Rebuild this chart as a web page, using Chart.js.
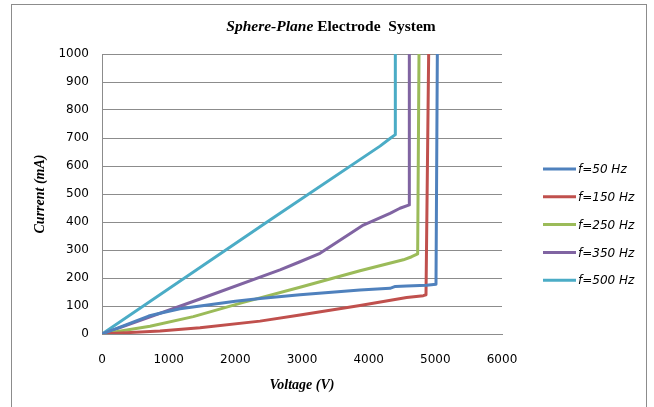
<!DOCTYPE html>
<html>
<head>
<meta charset="utf-8">
<script src="https://cdn.jsdelivr.net/npm/chart.js@4.4.1/dist/chart.umd.min.js"></script>
<style>
  html, body { margin: 0; padding: 0; background: #fff; }
  #wrap { width: 654px; height: 407px; position: relative; }
</style>
</head>
<body>
<div id="wrap"><canvas id="chart" width="654" height="407"></canvas></div>
<script>
// Datos (Voltage V, Current mA)
const seriesLabels = ['f=50 Hz', 'f=150 Hz', 'f=250 Hz', 'f=350 Hz', 'f=500 Hz'];
const seriesColors = ['#4F81BD', '#C0504D', '#9BBB59', '#8064A2', '#4BACC6'];

const f50V  = [0, 700, 870, 1170, 2000, 2370, 2970, 3870, 4320, 4400, 4570, 4870, 5010, 5030];
const f50I  = [0, 64, 74, 90, 117, 127, 140, 157, 163, 170, 171, 174, 178, 1000];

const f150V = [0, 870, 1470, 2370, 2970, 3870, 4570, 4820, 4860, 4900];
const f150I = [0, 11, 22, 46, 68, 102, 130, 137, 140, 1000];

const f250V = [0, 720, 1370, 2120, 2970, 3870, 4520, 4645, 4735, 4755];
const f250I = [0, 28, 62, 113, 167, 226, 265, 276, 286, 1000];

const f350V = [0, 1470, 2670, 2970, 3270, 3920, 4320, 4470, 4610, 4610];
const f350I = [0, 125, 229, 258, 288, 389, 431, 449, 461, 1000];

const f500V = [0, 2520, 4170, 4330, 4400, 4400];
const f500I = [0, 407, 671, 700, 712, 1000];

const xTicks = [0, 1000, 2000, 3000, 4000, 5000, 6000];
const yTicks = [0, 100, 200, 300, 400, 500, 600, 700, 800, 900, 1000];

const seriesV = [f50V, f150V, f250V, f350V, f500V];
const seriesI = [f50I, f150I, f250I, f350I, f500I];

// Área de trazado (píxeles)
const AREA = { left: 102, top: 54, right: 502, bottom: 334 };
const W = 654, H = 407;

const toPoints = (vs, is) => vs.map((v, k) => ({ x: v, y: is[k] }));

const datasets = seriesLabels.map((label, i) => ({
    label: label,
    data: toPoints(seriesV[i], seriesI[i]),
    borderColor: seriesColors[i],
    backgroundColor: seriesColors[i],
    borderWidth: 3,
    pointRadius: 0,
    showLine: true,
    tension: 0,
    borderJoinStyle: 'round'
}));

// Marco, títulos y leyenda
const decorPlugin = {
    id: 'decor',
    beforeDraw(chart) {
        const ctx = chart.ctx;
        ctx.save();
        ctx.fillStyle = '#fff';
        ctx.fillRect(0, 0, W, H);
        ctx.restore();
    },
    afterDraw(chart) {
        const ctx = chart.ctx;
        ctx.save();

        // Marco exterior
        ctx.strokeStyle = '#8c8c8c';
        ctx.lineWidth = 1;
        ctx.strokeRect(11.5, 4.5, 635, 420);

        // Título
        ctx.fillStyle = '#000';
        ctx.textBaseline = 'alphabetic';
        const part1 = 'Sphere-Plane';
        const part2 = ' Electrode  System';
        const f1 = 'italic bold 15.5px "Liberation Serif"';
        const f2 = 'bold 15.5px "Liberation Serif"';
        ctx.font = f1;
        const w1 = ctx.measureText(part1).width;
        ctx.font = f2;
        const w2 = ctx.measureText(part2).width;
        let tx = 331 - (w1 + w2) / 2;
        ctx.font = f1;
        ctx.fillText(part1, tx, 30.5);
        ctx.font = f2;
        ctx.fillText(part2, tx + w1, 30.5);

        // Títulos de ejes
        ctx.font = 'italic bold 14px "Liberation Serif"';
        ctx.textAlign = 'center';
        ctx.textBaseline = 'middle';
        ctx.fillText('Voltage (V)', 302, 385);
        ctx.save();
        ctx.translate(40, 194);
        ctx.rotate(-Math.PI / 2);
        ctx.fillText('Current (mA)', 0, 0);
        ctx.restore();

        // Leyenda
        ctx.textAlign = 'left';
        ctx.font = 'italic 12px "DejaVu Sans"';
        chart.data.datasets.forEach((ds, i) => {
            const y = 169 + i * 27.8;
            ctx.strokeStyle = ds.borderColor;
            ctx.lineWidth = 3;
            ctx.beginPath();
            ctx.moveTo(543, y);
            ctx.lineTo(576, y);
            ctx.stroke();
            ctx.fillStyle = '#000';
            ctx.fillText(ds.label, 578, y + 1);
        });
        ctx.restore();
    }
};

const tickFont = { family: '"DejaVu Sans"', size: 12 };

const config = {
    type: 'scatter',
    data: { datasets: datasets },
    options: {
        responsive: false,
        animation: false,
        layout: {
            padding: { left: 0, top: AREA.top, right: W - AREA.right, bottom: 0 }
        },
        plugins: {
            legend: { display: false },
            tooltip: { enabled: false },
            title: { display: false }
        },
        scales: {
            x: {
                type: 'linear',
                min: 0,
                max: 6000,
                afterFit(scale) { scale.height = H - AREA.bottom; },
                afterBuildTicks(scale) { scale.ticks = xTicks.map(v => ({ value: v })); },
                grid: { display: false, drawTicks: false },
                border: { display: true, color: '#8c8c8c', width: 1 },
                ticks: {
                    padding: 19,
                    color: '#000',
                    maxRotation: 0,
                    font: tickFont,
                    callback: (v) => String(v)
                }
            },
            y: {
                type: 'linear',
                min: 0,
                max: 1000,
                afterFit(scale) { scale.width = AREA.left; },
                afterBuildTicks(scale) { scale.ticks = yTicks.map(v => ({ value: v })); },
                grid: { color: '#8c8c8c', lineWidth: 1, drawTicks: false },
                border: { display: true, color: '#8c8c8c', width: 1 },
                ticks: {
                    padding: 13,
                    color: '#000',
                    font: tickFont,
                    callback: (v) => String(v)
                }
            }
        }
    },
    plugins: [decorPlugin]
};

new Chart(document.getElementById('chart'), config);
</script>
</body>
</html>
